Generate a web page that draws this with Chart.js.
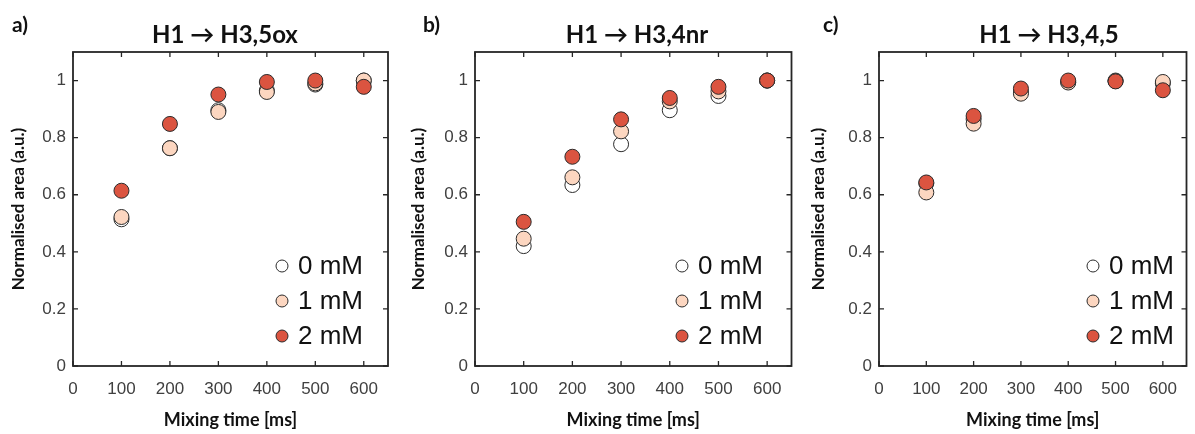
<!DOCTYPE html>
<html>
<head>
<meta charset="utf-8">
<script src="https://cdn.jsdelivr.net/npm/chart.js@4.4.0/dist/chart.umd.min.js"></script>
<style>
  body { margin: 0; background: #fff; width: 1195px; height: 434px; overflow: hidden; position: relative; }
  .panel { position: absolute; top: 0; height: 434px; }
</style>
</head>
<body>
<div class="panel" style="left:0;width:400px"><canvas id="chartA"></canvas></div>
<div class="panel" style="left:400px;width:400px"><canvas id="chartB"></canvas></div>
<div class="panel" style="left:800px;width:395px"><canvas id="chartC"></canvas></div>
<script>
// Shared axes
const mixingTimes = [100, 200, 300, 400, 500, 600];
const xTicks = [0, 100, 200, 300, 400, 500, 600];
const yTicks = [0, 0.2, 0.4, 0.6, 0.8, 1];
const concLabels = ['0 mM', '1 mM', '2 mM'];

// a) H1 -> H3,5ox
const ox_0mM = [0.514, 0.763, 0.896, 0.965, 0.986, 1.0];
const ox_1mM = [0.522, 0.763, 0.890, 0.960, 0.990, 1.0];
const ox_2mM = [0.614, 0.848, 0.951, 0.995, 1.0, 0.978];

// b) H1 -> H3,4nr
const nr_0mM = [0.420, 0.634, 0.777, 0.896, 0.946, 1.0];
const nr_1mM = [0.446, 0.661, 0.822, 0.927, 0.962, 1.0];
const nr_2mM = [0.505, 0.733, 0.864, 0.939, 0.978, 1.0];

// c) H1 -> H3,4,5
const h345_0mM = [0.640, 0.865, 0.960, 0.995, 1.0, 0.990];
const h345_1mM = [0.608, 0.849, 0.954, 0.993, 0.998, 0.995];
const h345_2mM = [0.643, 0.876, 0.972, 1.0, 0.997, 0.966];

const fillColors = ['#ffffff', '#fcd6c0', '#db5440'];
const edgeColor = '#2b2b2b';

// Frame, inward ticks, panel letter, title and legend (MATLAB look)
const matlabDecor = {
  id: 'matlabDecor',
  afterDatasetsDraw(chart, args, opts) {
    const { ctx, chartArea: a, scales } = chart;
    ctx.save();
    ctx.strokeStyle = '#262626';
    ctx.lineWidth = 1.8;
    ctx.strokeRect(a.left, a.top, a.right - a.left, a.bottom - a.top);

    ctx.lineWidth = 1.3;
    ctx.beginPath();
    xTicks.forEach(v => {
      const x = scales.x.getPixelForValue(v);
      ctx.moveTo(x, a.bottom); ctx.lineTo(x, a.bottom - 5);
      ctx.moveTo(x, a.top); ctx.lineTo(x, a.top + 5);
    });
    yTicks.forEach(v => {
      const y = scales.y.getPixelForValue(v);
      ctx.moveTo(a.left, y); ctx.lineTo(a.left + 5, y);
      ctx.moveTo(a.right, y); ctx.lineTo(a.right - 5, y);
    });
    ctx.stroke();

    // panel letter
    ctx.fillStyle = '#111';
    ctx.font = 'bold 21px Lato';
    ctx.textBaseline = 'middle';
    ctx.textAlign = 'left';
    ctx.fillText(opts.letter, opts.letterX, 25);

    // title
    ctx.font = 'bold 24px Lato';
    ctx.textAlign = 'center';
    ctx.fillText(opts.title, opts.titleX, 35);

    // legend inside the plot, bottom right
    ctx.font = '26px "Liberation Sans"';
    ctx.textAlign = 'left';
    const rows = [-100, -65, -30];
    chart.data.datasets.forEach((ds, i) => {
      const y = a.bottom + rows[i];
      ctx.beginPath();
      ctx.arc(opts.legendX, y, 6, 0, Math.PI * 2);
      ctx.fillStyle = ds.backgroundColor;
      ctx.fill();
      ctx.lineWidth = 1;
      ctx.strokeStyle = edgeColor;
      ctx.stroke();
      ctx.fillStyle = '#111';
      ctx.fillText(ds.label, opts.legendX + 16, y + 1);
    });
    ctx.restore();
  }
};

function makeDataset(label, values, idx) {
  return {
    label: label,
    data: mixingTimes.map((t, i) => ({ x: t, y: values[i] })),
    backgroundColor: fillColors[idx],
    borderColor: edgeColor,
    borderWidth: 1,
    pointRadius: 7.5,
    pointHoverRadius: 7.5,
    order: 2 - idx
  };
}

function makeChart(id, series, cfg) {
  new Chart(document.getElementById(id), {
    type: 'scatter',
    data: {
      datasets: series.map((vals, i) => makeDataset(concLabels[i], vals, i))
    },
    options: {
      responsive: true,
      maintainAspectRatio: false,
      animation: false,
      layout: { padding: { top: 52, right: cfg.padRight, left: 0, bottom: 0 } },
      plugins: {
        legend: { display: false },
        tooltip: { enabled: false },
        matlabDecor: cfg
      },
      scales: {
        x: {
          type: 'linear',
          min: 0,
          max: 650,
          afterBuildTicks: s => { s.ticks = xTicks.map(v => ({ value: v })); },
          afterFit: s => { s.height = 68; },
          grid: { display: false, drawTicks: false, tickLength: 0 },
          border: { display: false },
          ticks: {
            padding: 13,
            color: '#404040',
            font: { family: 'Liberation Sans', size: 17 },
            callback: v => String(v)
          },
          title: {
            display: true,
            text: 'Mixing time [ms]',
            color: '#111',
            font: { family: 'Lato', size: 18, weight: 'bold' },
            padding: { top: 4, bottom: 3 }
          }
        },
        y: {
          type: 'linear',
          min: 0,
          max: 1.1,
          afterBuildTicks: s => { s.ticks = yTicks.map(v => ({ value: v })); },
          afterFit: s => { s.width = cfg.plotLeft; },
          grid: { display: false, drawTicks: false, tickLength: 0 },
          border: { display: false },
          ticks: {
            padding: 7,
            color: '#404040',
            font: { family: 'Liberation Sans', size: 17 },
            callback: v => String(v)
          },
          title: {
            display: true,
            text: 'Normalised area (a.u.)',
            color: '#111',
            font: { family: 'Lato', size: 17, weight: 'bold' },
            padding: { top: 8, bottom: 4 }
          }
        }
      }
    },
    plugins: [matlabDecor]
  });
}

makeChart('chartA', [ox_0mM, ox_1mM, ox_2mM],
  { letter: 'a)', letterX: 12, title: 'H1 \u2192 H3,5ox', titleX: 225, legendX: 282, plotLeft: 73, padRight: 12 });
makeChart('chartB', [nr_0mM, nr_1mM, nr_2mM],
  { letter: 'b)', letterX: 23, title: 'H1 \u2192 H3,4nr', titleX: 237, legendX: 282, plotLeft: 75, padRight: 7 });
makeChart('chartC', [h345_0mM, h345_1mM, h345_2mM],
  { letter: 'c)', letterX: 23, title: 'H1 \u2192 H3,4,5', titleX: 249, legendX: 293, plotLeft: 79, padRight: 2 });
</script>
</body>
</html>
